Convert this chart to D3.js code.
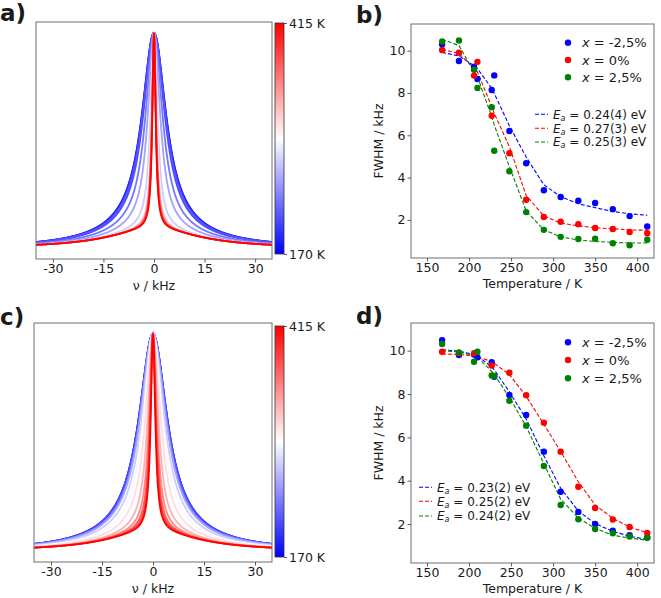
<!DOCTYPE html>
<html><head><meta charset="utf-8">
<script src="https://cdn.jsdelivr.net/npm/d3@7"></script>
<style>
body{margin:0;background:#fff}
svg{display:block}
text{font-family:"DejaVu Sans",sans-serif;fill:#1a1a1a}
</style>
</head><body>
<svg id="chart" width="661" height="598"></svg>
<script>
// ---------------- DATA ----------------
// Panel b (FWHM vs T, three compositions)
const tempsB = [168, 188, 206, 210, 227, 230, 248, 268, 289, 309, 330, 350, 371, 391, 412];
const tempsBRed = [168, 188, 206, 210, 227, 248, 268, 289, 309, 330, 350, 371, 391, 412];
const bBlue  = [10.30, 9.51, 9.24, 8.66, 8.14, 8.83, 6.20, 4.68, 3.40, 3.08, 2.91, 2.80, 2.51, 2.18, 1.69];
const bRed   = [10.03, 9.90, 8.82, 9.47, 6.92, 5.15, 2.95, 2.14, 1.91, 1.80, 1.62, 1.57, 1.43, 1.37];
const bGreen = [10.43, 10.48, 9.10, 8.24, 7.33, 5.27, 4.30, 2.37, 1.53, 1.20, 1.10, 1.11, 0.90, 0.80, 1.06];
const bFitBlue  = [9.92, 9.75, 9.29, 9.15, 8.22, 7.98, 6.45, 4.97, 3.66, 3.10, 2.76, 2.58, 2.40, 2.29, 2.22];
const bFitRed   = [10.06, 9.87, 9.17, 9.00, 7.35, 7.04, 5.46, 3.15, 2.19, 1.85, 1.72, 1.63, 1.58, 1.53, 1.51];
const bFitGreen = [10.54, 10.24, 9.00, 8.77, 6.88, 6.49, 4.52, 2.42, 1.53, 1.20, 1.05, 0.98, 0.94, 0.91, 0.91];
const bFitLabels = ["0.24(4)", "0.27(3)", "0.25(3)"];

// Panel d
const tempsD = [168, 188, 206, 210, 227, 230, 248, 268, 289, 309, 330, 350, 371, 391, 412];
const tempsDRed = [168, 188, 206, 227, 248, 268, 289, 309, 330, 350, 371, 391, 412];
const dBlue  = [10.49, 9.80, 9.82, 9.70, 9.47, 8.80, 7.96, 7.03, 5.34, 3.49, 2.56, 2.00, 1.69, 1.48, 1.38];
const dRed   = [9.95, 9.88, 9.88, 9.32, 8.98, 7.95, 6.68, 5.34, 3.72, 2.74, 2.21, 1.86, 1.59];
const dGreen = [10.31, 9.92, 9.49, 9.95, 8.86, 8.83, 7.69, 6.54, 4.68, 2.88, 2.22, 1.77, 1.57, 1.42, 1.36];
const dFitBlue  = [10.05, 9.98, 9.82, 9.76, 9.25, 9.12, 8.10, 6.85, 5.15, 3.65, 2.60, 2.02, 1.66, 1.44, 1.28];
const dFitRed   = [9.85, 9.83, 9.76, 9.72, 9.50, 9.42, 8.90, 7.90, 6.60, 5.35, 3.95, 2.88, 2.26, 1.86, 1.60];
const dFitGreen = [10.00, 9.95, 9.77, 9.70, 9.05, 8.90, 7.85, 6.50, 4.78, 3.15, 2.28, 1.80, 1.48, 1.35, 1.25];
const dFitLabels = ["0.23(2)", "0.25(2)", "0.24(2)"];

const seriesLabels = ["-2,5%", "0%", "2,5%"];
const tempTicks = [150, 200, 250, 300, 350, 400];
const fwhmTicks = [2, 4, 6, 8, 10];

// Spectra (panels a, c): temperature and line width (FWHM, kHz) of each spectrum
const specTempsA = [170, 190, 206, 210, 227, 248, 268, 289, 309, 330, 350, 371, 391, 415];
const specWidthA = [8.6, 8.5, 7.6, 8.1, 6.0, 4.4, 2.5, 1.85, 1.65, 1.55, 1.40, 1.35, 1.23, 1.18];
const specTempsC = [170, 190, 206, 227, 248, 268, 289, 309, 330, 350, 371, 391, 415];
const specWidthC = [9.9, 9.85, 9.85, 9.3, 8.95, 7.9, 6.65, 5.3, 3.7, 2.75, 2.2, 1.85, 1.58];
const broadWeight = 0.09, broadHWHM = 16;
const nuTicks = [-30, -15, 0, 15, 30];
const colorbarRange = [170, 415];

// ---------------- DRAWING ----------------
const svg = d3.select("#chart");
const FRAME = "#6e6e6e";
const TICKFONT = 12.5;

function bwr(t) {
  t = Math.max(0, Math.min(1, t));
  let r, g, b;
  if (t < 0.5) { r = 2 * t; g = 2 * t; b = 1; }
  else { r = 1; g = 2 * (1 - t); b = 2 * (1 - t); }
  return d3.rgb(r * 255, g * 255, b * 255).toString();
}
const tNorm = d3.scaleLinear().domain(colorbarRange).range([0, 1]);

const defs = svg.append("defs");
const grad = defs.append("linearGradient").attr("id", "bwr").attr("x1", 0).attr("y1", 1).attr("x2", 0).attr("y2", 0);
grad.append("stop").attr("offset", "0%").attr("stop-color", "#0000ff");
grad.append("stop").attr("offset", "50%").attr("stop-color", "#ffffff");
grad.append("stop").attr("offset", "100%").attr("stop-color", "#ff0000");

function styleAxis(g) {
  g.select(".domain").remove();
  g.selectAll(".tick line").attr("stroke", "#333").attr("stroke-width", 0.8);
  g.selectAll(".tick text").attr("font-size", TICKFONT).attr("fill", "#1a1a1a").attr("font-family", "DejaVu Sans");
}

function drawSpectra(fr, temps, widths, cb, id) {
  const x = d3.scaleLinear().domain([-35, 35]).range([fr.x0, fr.x1]);
  const y = d3.scaleLinear().domain([-0.05, 1.05]).range([fr.y1, fr.y0]);
  defs.append("clipPath").attr("id", id).append("rect")
    .attr("x", fr.x0).attr("y", fr.y0).attr("width", fr.x1 - fr.x0).attr("height", fr.y1 - fr.y0);
  const nuGrid = d3.range(-35, 35.001, 0.05);
  const g = svg.append("g").attr("clip-path", `url(#${id})`);
  temps.forEach((T, i) => {
    const hw = widths[i] / 2;
    const shape = nu => (1 - broadWeight) / (1 + (nu / hw) ** 2) + broadWeight / (1 + (nu / broadHWHM) ** 2);
    const line = d3.line().x(d => x(d)).y(d => y(shape(d)));
    g.append("path").datum(nuGrid).attr("d", line)
      .attr("fill", "none").attr("stroke", bwr(tNorm(T))).attr("stroke-width", 1.8);
  });
  svg.append("rect").attr("x", fr.x0).attr("y", fr.y0).attr("width", fr.x1 - fr.x0).attr("height", fr.y1 - fr.y0)
    .attr("fill", "none").attr("stroke", FRAME).attr("stroke-width", 1);
  const ax = svg.append("g").attr("transform", `translate(0,${fr.y1})`)
    .call(d3.axisBottom(x).tickValues(nuTicks).tickSize(3.5).tickPadding(2).tickFormat(d => String(d)));
  styleAxis(ax);
  svg.append("text").attr("x", (fr.x0 + fr.x1) / 2).attr("y", fr.y1 + 31).attr("text-anchor", "middle")
    .attr("font-size", 12.5).text("ν / kHz");
  svg.append("rect").attr("x", cb.x).attr("y", cb.y0).attr("width", cb.w).attr("height", cb.y1 - cb.y0)
    .attr("fill", "url(#bwr)").attr("stroke", "#333").attr("stroke-width", 0.8);
  const cs = d3.scaleLinear().domain(colorbarRange).range([cb.y1, cb.y0]);
  const cax = svg.append("g").attr("transform", `translate(${cb.x + cb.w},0)`)
    .call(d3.axisRight(cs).tickValues(colorbarRange).tickSize(3).tickPadding(2).tickFormat(d => d + " K"));
  styleAxis(cax);
}

function drawFwhm(fr, yDom, temps, tempsRed, pts, fits, fitLabels, leg1, leg2) {
  const x = d3.scaleLinear().domain([131, 420]).range([fr.x0, fr.x1]);
  const y = d3.scaleLinear().domain(yDom).range([fr.y1, fr.y0]);
  const colors = ["#0000ff", "#ff0000", "#008000"];
  const tArr = [temps, tempsRed, temps];
  fits.forEach((f, k) => {
    svg.append("path").datum(f).attr("fill", "none").attr("stroke", colors[k]).attr("stroke-width", 1.1)
      .attr("stroke-dasharray", "4,2")
      .attr("d", d3.line().x((d, i) => x(temps[i])).y(d => y(d)));
  });
  pts.forEach((p, k) => {
    svg.append("g").selectAll("circle").data(p).join("circle")
      .attr("cx", (d, i) => x(tArr[k][i])).attr("cy", d => y(d)).attr("r", 3.2).attr("fill", colors[k]);
  });
  svg.append("rect").attr("x", fr.x0).attr("y", fr.y0).attr("width", fr.x1 - fr.x0).attr("height", fr.y1 - fr.y0)
    .attr("fill", "none").attr("stroke", FRAME).attr("stroke-width", 1);
  const ax = svg.append("g").attr("transform", `translate(0,${fr.y1})`)
    .call(d3.axisBottom(x).tickValues(tempTicks).tickSize(3.5).tickPadding(2));
  styleAxis(ax);
  const ay = svg.append("g").attr("transform", `translate(${fr.x0},0)`)
    .call(d3.axisLeft(y).tickValues(fwhmTicks).tickSize(3.5).tickPadding(2));
  styleAxis(ay);
  svg.append("text").attr("x", (fr.x0 + fr.x1) / 2).attr("y", fr.y1 + 30).attr("text-anchor", "middle")
    .attr("font-size", 12.5).text("Temperature / K");
  svg.append("text").attr("transform", `translate(${fr.x0 - 28},${(fr.y0 + fr.y1) / 2}) rotate(-90)`)
    .attr("text-anchor", "middle").attr("font-size", 12.5).text("FWHM / kHz");
  seriesLabels.forEach((lab, k) => {
    const yy = leg1.y[k];
    svg.append("circle").attr("cx", leg1.x).attr("cy", yy).attr("r", 3.2).attr("fill", colors[k]);
    const t = svg.append("text").attr("x", leg1.x + 14).attr("y", yy + 4.5).attr("font-size", 13);
    t.append("tspan").attr("font-style", "italic").text("x");
    t.append("tspan").text(" = " + lab);
  });
  fitLabels.forEach((lab, k) => {
    const yy = leg2.y[k];
    svg.append("line").attr("x1", leg2.x).attr("x2", leg2.x + 13).attr("y1", yy).attr("y2", yy)
      .attr("stroke", colors[k]).attr("stroke-width", 1.1).attr("stroke-dasharray", "4,2");
    const t = svg.append("text").attr("x", leg2.x + 18).attr("y", yy + 4.3).attr("font-size", 12);
    t.append("tspan").attr("font-style", "italic").text("E");
    t.append("tspan").attr("font-style", "italic").attr("font-size", 8).attr("dy", 2).text("a");
    t.append("tspan").attr("dy", -2).text(" = " + lab + " eV");
  });
}

drawSpectra({x0: 36, x1: 272, y0: 22, y1: 259}, specTempsA, specWidthA, {x: 275, w: 9, y0: 23, y1: 254}, "clipA");
drawSpectra({x0: 34, x1: 272, y0: 323, y1: 562}, specTempsC, specWidthC, {x: 275, w: 9, y0: 326, y1: 557}, "clipC");
drawFwhm({x0: 411, x1: 654, y0: 24, y1: 258}, [0.2, 11.26], tempsB, tempsBRed,
  [bBlue, bRed, bGreen], [bFitBlue, bFitRed, bFitGreen], bFitLabels,
  {x: 568, y: [42.7, 60, 77.3]}, {x: 535, y: [114.3, 128.3, 142]});
drawFwhm({x0: 411, x1: 654, y0: 323, y1: 563}, [0.2, 11.28], tempsD, tempsDRed,
  [dBlue, dRed, dGreen], [dFitBlue, dFitRed, dFitGreen], dFitLabels,
  {x: 568, y: [342.3, 360, 378.3]}, {x: 419, y: [487.3, 501.3, 516]});

const letters = [["a)", 0, 21], ["b)", 356, 23], ["c)", 0, 325], ["d)", 356, 324]];
letters.forEach(([s, x, y]) => {
  svg.append("text").attr("x", x).attr("y", y).attr("font-family", "Liberation Sans").attr("font-weight", "bold")
    .attr("font-size", 23).attr("fill", "#000").text(s);
});
</script>
</body></html>
